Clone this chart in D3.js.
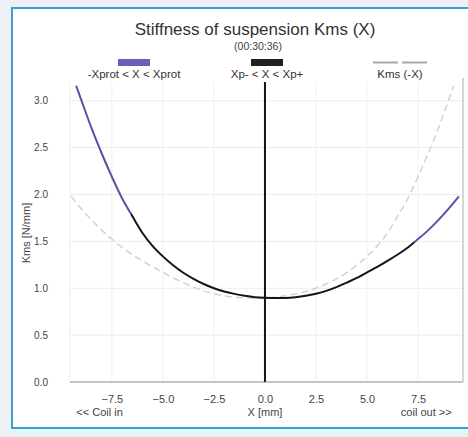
<!DOCTYPE html>
<html>
<head>
<meta charset="utf-8">
<script src="https://cdn.jsdelivr.net/npm/d3@7"></script>
<style>
  html, body { margin: 0; padding: 0; background: #edf1f5; }
  svg { display: block; font-family: "Liberation Sans", Arial, sans-serif; }
</style>
</head>
<body>
<svg id="chart" width="468" height="437"></svg>
<script>
// Displacement X [mm] and measured suspension stiffness Kms [N/mm]
const xValues = [-9.25, -9, -8.5, -8, -7.5, -7, -6.5, -6, -5.5, -5, -4.5, -4, -3.5, -3, -2.5, -2, -1.5, -1, -0.5,
                 0, 0.5, 1, 1.5, 2, 2.5, 3, 3.5, 4, 4.5, 5, 5.5, 6, 6.5, 7, 7.5, 8, 8.5, 9, 9.5];
const kmsValues = [3.16, 3.01, 2.71, 2.44, 2.19, 1.96, 1.77, 1.59, 1.45, 1.34, 1.245, 1.165, 1.10, 1.045, 1.0, 0.965, 0.94, 0.92, 0.905,
                   0.898, 0.895, 0.897, 0.905, 0.92, 0.942, 0.972, 1.012, 1.06, 1.11, 1.17, 1.228, 1.292, 1.36, 1.435, 1.525, 1.62, 1.73, 1.85, 1.98];
// Limits of the Xp- < X < Xp+ range
const xpLimits = [-6.57, 7.3];
const xTicks = [-7.5, -5.0, -2.5, 0.0, 2.5, 5.0, 7.5];
const yTicks = [0.0, 0.5, 1.0, 1.5, 2.0, 2.5, 3.0];
const legendLabels = ["-Xprot < X < Xprot", "Xp- < X < Xp+", "Kms (-X)"];

const purple = "#5b4fa6";
const black = "#151515";
const svg = d3.select("#chart");

// Panel background and frame
svg.append("rect").attr("x", 0).attr("y", 0).attr("width", 468).attr("height", 437).attr("fill", "#edf1f5");
svg.append("rect").attr("x", 12).attr("y", 8).attr("width", 470).attr("height", 420)
  .attr("fill", "#ffffff").attr("stroke", "#3b9ed0").attr("stroke-width", 2);
svg.append("rect").attr("x", 13).attr("y", 429).attr("width", 455).attr("height", 8).attr("fill", "#e5f6f8");

const plot = { left: 70, right: 463, top: 82, bottom: 382 };
const x = d3.scaleLinear().domain([-9.55, 9.7]).range([plot.left, plot.right]);
const y = d3.scaleLinear().domain([0, 3.2]).range([plot.bottom, plot.top]);

// Title
svg.append("text").attr("x", 255).attr("y", 35).attr("text-anchor", "middle")
  .attr("font-size", 17).attr("fill", "#333").text("Stiffness of suspension Kms (X)");
svg.append("text").attr("x", 258).attr("y", 50).attr("text-anchor", "middle")
  .attr("font-size", 10.5).attr("fill", "#444").text("(00:30:36)");

// Grid
const grid = svg.append("g");
grid.selectAll(".gy").data(yTicks.slice(1)).join("line")
  .attr("x1", plot.left).attr("x2", plot.right)
  .attr("y1", d => y(d)).attr("y2", d => y(d))
  .attr("stroke", "#ececec").attr("stroke-width", 1);
grid.selectAll(".gx").data(xTicks).join("line")
  .attr("y1", plot.top).attr("y2", plot.bottom)
  .attr("x1", d => x(d)).attr("x2", d => x(d))
  .attr("stroke", "#f0f0f0").attr("stroke-width", 1);
svg.append("line").attr("x1", plot.left).attr("x2", plot.left).attr("y1", plot.top).attr("y2", plot.bottom)
  .attr("stroke", "#eeeeee");
svg.append("line").attr("x1", plot.right).attr("x2", plot.right).attr("y1", plot.top - 4).attr("y2", plot.bottom)
  .attr("stroke", "#c8c8c8").attr("stroke-width", 1.5);

// Axes
const yAxis = d3.axisLeft(y).tickValues(yTicks).tickFormat(d3.format(".1f")).tickSize(0).tickPadding(0);
svg.append("g").attr("transform", `translate(${plot.left - 22},0)`).call(yAxis)
  .call(g => g.select(".domain").remove())
  .call(g => g.selectAll("text").attr("font-size", 10).attr("fill", "#444").attr("font-family", "Liberation Sans, Arial, sans-serif"));

const xAxis = d3.axisBottom(x).tickValues(xTicks).tickFormat(d3.format(".1f")).tickSize(0).tickPadding(0);
svg.append("g").attr("transform", `translate(0,${plot.bottom + 13})`).call(xAxis)
  .call(g => g.select(".domain").remove())
  .call(g => g.selectAll("text").attr("font-size", 11).attr("fill", "#444").attr("font-family", "Liberation Sans, Arial, sans-serif"));

svg.append("line").attr("x1", plot.left).attr("x2", plot.right).attr("y1", plot.bottom).attr("y2", plot.bottom)
  .attr("stroke", "#c4c4c4").attr("stroke-width", 2);

// Axis titles
svg.append("text").attr("transform", `translate(30,233) rotate(-90)`)
  .attr("text-anchor", "middle").attr("font-size", 11).attr("fill", "#444").text("Kms [N/mm]");
const axisNotes = [["<< Coil in", -8.1], ["X [mm]", 0], ["coil out >>", 7.9]];
svg.selectAll(".note").data(axisNotes).join("text")
  .attr("x", d => x(d[1])).attr("y", 416).attr("text-anchor", "middle")
  .attr("font-size", 11).attr("fill", "#444").text(d => d[0]);

// Curves
const pts = xValues.map((v, i) => ({ x: v, k: kmsValues[i] }));
const line = d3.line().x(d => x(d.x)).y(d => y(d.k)).curve(d3.curveMonotoneX);
const mirrored = pts.map(d => ({ x: -d.x, k: d.k })).reverse();

const defs = svg.append("defs");
defs.append("clipPath").attr("id", "inner").append("rect")
  .attr("x", x(xpLimits[0])).attr("y", 0).attr("width", x(xpLimits[1]) - x(xpLimits[0])).attr("height", 437);
const outer = defs.append("clipPath").attr("id", "outer");
outer.append("rect").attr("x", 0).attr("y", 0).attr("width", x(xpLimits[0])).attr("height", 437);
outer.append("rect").attr("x", x(xpLimits[1])).attr("y", 0).attr("width", 468 - x(xpLimits[1])).attr("height", 437);

svg.append("path").datum(mirrored).attr("d", line)
  .attr("fill", "none").attr("stroke", "#d2d2d2").attr("stroke-width", 1.5).attr("stroke-dasharray", "7,4");

svg.append("path").datum(pts).attr("d", line).attr("clip-path", "url(#outer)")
  .attr("fill", "none").attr("stroke", purple).attr("stroke-width", 2);
svg.append("path").datum(pts).attr("d", line).attr("clip-path", "url(#inner)")
  .attr("fill", "none").attr("stroke", black).attr("stroke-width", 2);

// Zero-displacement marker
svg.append("line").attr("x1", x(0)).attr("x2", x(0)).attr("y1", plot.top).attr("y2", plot.bottom)
  .attr("stroke", black).attr("stroke-width", 2);

// Legend
const legend = [
  { label: legendLabels[0], cx: 134, type: "swatch", color: "#6a5fb8" },
  { label: legendLabels[1], cx: 267, type: "swatch", color: "#1d2220" },
  { label: legendLabels[2], cx: 400, type: "dash", color: "#a8a8a8" }
];
legend.forEach(item => {
  if (item.type === "swatch") {
    svg.append("rect").attr("x", item.cx - 16).attr("y", 59).attr("width", 32).attr("height", 7).attr("fill", item.color);
  } else {
    [[-27, -2], [2, 27]].forEach(seg => {
      svg.append("line").attr("x1", item.cx + seg[0]).attr("x2", item.cx + seg[1]).attr("y1", 62.5).attr("y2", 62.5)
        .attr("stroke", item.color).attr("stroke-width", 2);
    });
  }
  svg.append("text").attr("x", item.cx).attr("y", 78).attr("text-anchor", "middle")
    .attr("font-size", 11.5).attr("fill", "#333").text(item.label);
});
</script>
</body>
</html>
